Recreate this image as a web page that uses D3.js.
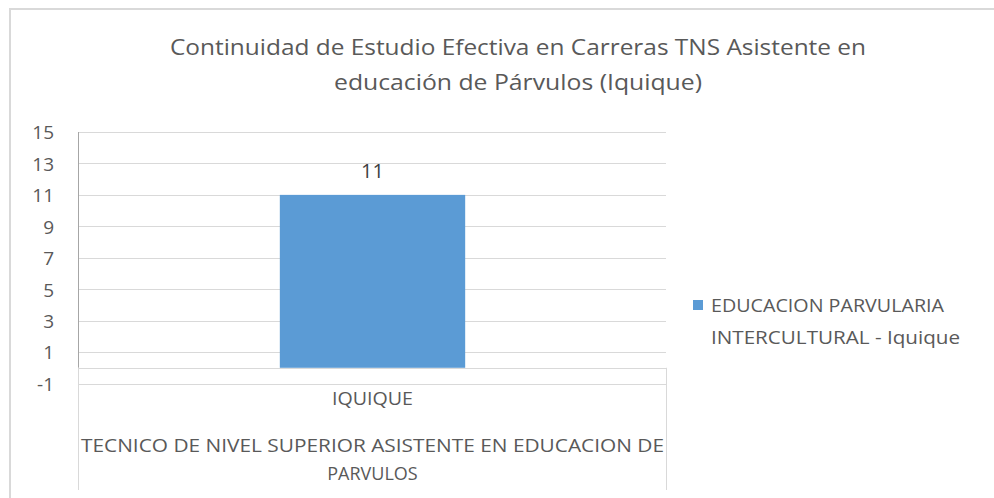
<!DOCTYPE html>
<html>
<head>
<meta charset="utf-8">
<script src="https://cdn.jsdelivr.net/npm/d3@7"></script>
<style>
  html, body { margin: 0; padding: 0; background: #ffffff; }
  svg { display: block; }
  text { font-family: "Open Sans", "Noto Sans", "Liberation Sans", sans-serif; }
</style>
</head>
<body>
<svg id="chart" width="994" height="498"></svg>
<script>
// ---- data ----
const titleLines = ["Continuidad de Estudio Efectiva en Carreras TNS Asistente en", "educación de Párvulos (Iquique)"];
const categories = ["IQUIQUE"];
const groupLabelLines = ["TECNICO DE NIVEL SUPERIOR ASISTENTE EN EDUCACION DE", "PARVULOS"];
const seriesName = ["EDUCACION PARVULARIA", "INTERCULTURAL - Iquique"];
const seriesValues = [11];
const yTicks = [-1, 1, 3, 5, 7, 9, 11, 13, 15];

// ---- layout ----
const W = 994, H = 498;
const plot = { left: 79, right: 666, top: 132, bottom: 383.5 };
const barColor = "#5b9bd5";
const gridColor = "#d9d9d9";
const textColor = "#595959";

const svg = d3.select("#chart");

// Fits a text element to a target width without changing its font size.
function fitWidth(sel, target) {
  sel.each(function () {
    const w = this.getComputedTextLength();
    if (Math.abs(w - target) / target > 0.01) {
      d3.select(this).attr("textLength", target).attr("lengthAdjust", "spacingAndGlyphs");
    }
  });
}

// outer chart frame (top and left edges)
svg.append("line").attr("x1", 9).attr("x2", W).attr("y1", 9).attr("y2", 9)
  .attr("stroke", "#d9d9d9").attr("stroke-width", 2);
svg.append("line").attr("x1", 10).attr("x2", 10).attr("y1", 8).attr("y2", H)
  .attr("stroke", "#d9d9d9").attr("stroke-width", 2);

// scales
const y = d3.scaleLinear().domain([-1, 15]).range([plot.bottom, plot.top]);
const x = d3.scaleBand().domain(categories).range([plot.left, plot.right])
  .paddingInner(0.52).paddingOuter(0.52);
const xCell = d3.scaleBand().domain(categories).range([plot.left, plot.right]).padding(0);

// gridlines
svg.append("g").selectAll("line").data(yTicks).join("line")
  .attr("x1", plot.left).attr("x2", plot.right)
  .attr("y1", d => Math.round(y(d)) + 0.5).attr("y2", d => Math.round(y(d)) + 0.5)
  .attr("stroke", gridColor).attr("stroke-width", 1);

// y axis labels (plain hyphen for negatives)
const yAxis = d3.axisLeft(y).tickValues(yTicks).tickSize(0).tickPadding(0)
  .tickFormat(d => String(d));
const yg = svg.append("g").attr("transform", `translate(54,0)`).call(yAxis);
yg.select(".domain").remove();
yg.selectAll("text").attr("fill", textColor).attr("font-size", 19)
  .attr("font-family", "'Open Sans', sans-serif").attr("dy", "0.36em");

// bar
svg.append("g").selectAll("rect").data(seriesValues).join("rect")
  .attr("x", (d, i) => x(categories[i]))
  .attr("width", x.bandwidth())
  .attr("y", d => y(d))
  .attr("height", d => y(0) - y(d))
  .attr("fill", barColor);

// zero line and vertical axis
svg.append("line").attr("x1", plot.left).attr("x2", plot.right)
  .attr("y1", Math.round(y(0)) + 0.5).attr("y2", Math.round(y(0)) + 0.5)
  .attr("stroke", gridColor).attr("stroke-width", 1);
svg.append("line").attr("x1", plot.left - 0.5).attr("x2", plot.left - 0.5)
  .attr("y1", plot.top).attr("y2", y(0))
  .attr("stroke", "#a6a6a6").attr("stroke-width", 1);

// category axis boxes below the plot
svg.append("line").attr("x1", plot.left - 0.5).attr("x2", plot.left - 0.5)
  .attr("y1", y(0)).attr("y2", 490).attr("stroke", gridColor).attr("stroke-width", 1);
svg.append("line").attr("x1", plot.right + 0.5).attr("x2", plot.right + 0.5)
  .attr("y1", y(0)).attr("y2", 490).attr("stroke", gridColor).attr("stroke-width", 1);

// data label
svg.append("g").selectAll("text").data(seriesValues).join("text")
  .attr("x", (d, i) => x(categories[i]) + x.bandwidth() / 2)
  .attr("y", d => y(d) - 17)
  .attr("text-anchor", "middle").attr("font-size", 20).attr("fill", "#404040")
  .text(d => d);

// category labels
svg.append("g").selectAll("text").data(categories).join("text")
  .attr("x", d => xCell(d) + xCell.bandwidth() / 2)
  .attr("y", 405)
  .attr("text-anchor", "middle").attr("font-size", 18).attr("fill", textColor)
  .text(d => d)
  .call(fitWidth, 81);

const groupLabel = svg.append("g").selectAll("text").data(groupLabelLines).join("text")
  .attr("x", (plot.left + plot.right) / 2)
  .attr("y", (d, i) => 452 + i * 28)
  .attr("text-anchor", "middle").attr("font-size", 18).attr("fill", textColor)
  .text(d => d);
fitWidth(groupLabel.filter((d, i) => i === 0), 583);

// title
const titleWidths = [696, 368];
svg.append("g").selectAll("text").data(titleLines).join("text")
  .attr("x", 518)
  .attr("y", (d, i) => 55 + i * 35)
  .attr("text-anchor", "middle").attr("font-size", 22).attr("fill", textColor)
  .text(d => d)
  .each(function (d, i) { fitWidth(d3.select(this), titleWidths[i]); });

// legend
svg.append("rect").attr("x", 693).attr("y", 300).attr("width", 10).attr("height", 10).attr("fill", barColor);
const legendWidths = [233, 249];
svg.append("g").selectAll("text").data(seriesName).join("text")
  .attr("x", 711)
  .attr("y", (d, i) => 312 + i * 32)
  .attr("font-size", 19).attr("fill", textColor)
  .text(d => d)
  .each(function (d, i) { fitWidth(d3.select(this), legendWidths[i]); });
</script>
</body>
</html>
